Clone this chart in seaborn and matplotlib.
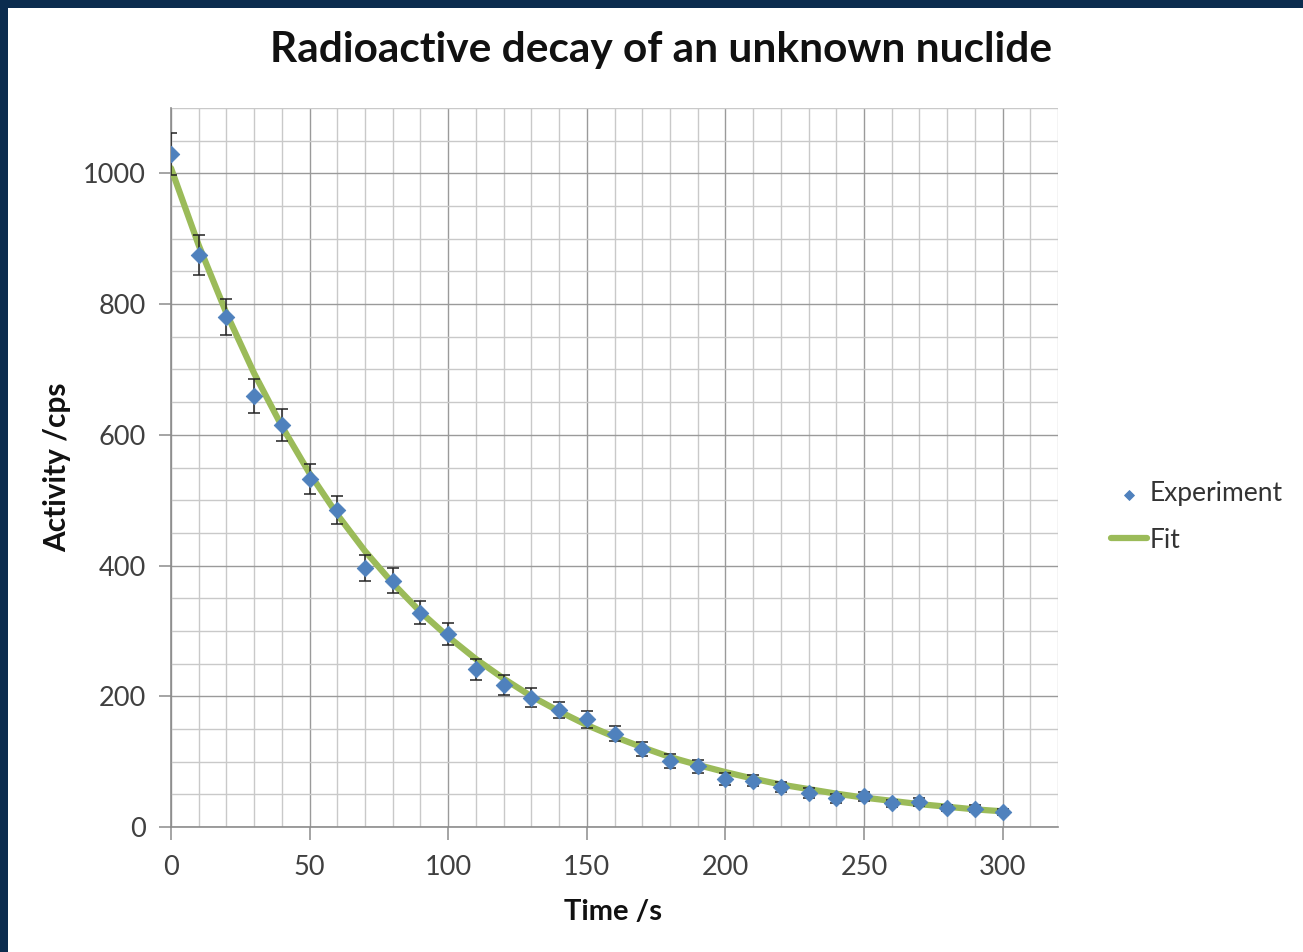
import numpy as np
import pandas as pd
import matplotlib.pyplot as plt
import seaborn as sns
from matplotlib.patches import Rectangle
from matplotlib.ticker import MultipleLocator

# Dane pomiarowe
time_s = [0, 10, 20, 30, 40, 50, 60, 70, 80, 90, 100, 110, 120, 130, 140, 150,
          160, 170, 180, 190, 200, 210, 220, 230, 240, 250, 260, 270, 280, 290, 300]
activity = [1030, 875, 780, 660, 615, 533, 485, 396, 377, 328, 295, 241, 217, 198, 179, 165,
            143, 119, 101, 93, 73, 71, 61, 52, 44, 47, 36, 38, 29, 28, 23]
activity_err = [32, 30, 28, 26, 25, 23, 22, 20, 19, 18, 17, 16, 15, 14, 13, 13,
                12, 11, 10, 10, 9, 8, 8, 7, 7, 7, 6, 6, 5, 5, 5]
# Krzywa dopasowania
fit_values = [1008, 890, 786, 694, 613, 541, 478, 422, 373, 329, 291, 257, 227, 200, 177, 156,
              138, 122, 107, 95, 84, 74, 65, 58, 51, 45, 40, 35, 31, 27, 24]

df = pd.DataFrame({'Time': time_s, 'Activity': activity, 'Err': activity_err, 'Fit': fit_values})

sns.set_style("white")
plt.rcParams['font.family'] = ['Lato', 'DejaVu Sans']

fig = plt.figure(figsize=(13.03, 9.52), dpi=100)
fig.patch.set_facecolor('#0b2c4e')
fig.add_artist(Rectangle((8 / 1303, 0), 1, 1 - 8 / 952, transform=fig.transFigure,
                         facecolor='white', edgecolor='none', zorder=0))

ax = fig.add_axes([171 / 1303, 1 - 827 / 952, (1058 - 171) / 1303, (827 - 108) / 952])
ax.set_facecolor('white')

sns.lineplot(data=df, x='Time', y='Fit', ax=ax, color='#9bbb59', linewidth=4.5,
             label='Fit', zorder=3)
ax.errorbar(df['Time'], df['Activity'], yerr=df['Err'], fmt='none', ecolor='#222222',
            elinewidth=1.1, capsize=4, capthick=1.1, zorder=4)
sns.scatterplot(data=df, x='Time', y='Activity', ax=ax, marker='D', s=70, color='#4f81bd',
                edgecolor='#4f81bd', label='Experiment', zorder=5)

ax.set_xlim(0, 320)
ax.set_ylim(0, 1100)
ax.xaxis.set_major_locator(MultipleLocator(50))
ax.xaxis.set_minor_locator(MultipleLocator(10))
ax.yaxis.set_major_locator(MultipleLocator(200))
ax.yaxis.set_minor_locator(MultipleLocator(50))
ax.grid(which='major', color='#9a9a9a', linewidth=1.0)
ax.grid(which='minor', color='#c9c9c9', linewidth=1.0)
ax.set_axisbelow(True)

for side in ['top', 'right']:
    ax.spines[side].set_visible(False)
for side in ['left', 'bottom']:
    ax.spines[side].set_color('#8c8c8c')
    ax.spines[side].set_linewidth(1.2)

ax.tick_params(which='major', direction='out', length=9, width=1.1, color='#8c8c8c',
               labelsize=19.5, labelcolor='#404040', pad=9)
ax.tick_params(axis='x', pad=11)
ax.tick_params(which='minor', length=0)
ax.tick_params(axis='x', labelbottom=True, bottom=True)
ax.tick_params(axis='y', left=True)

ax.set_xlabel('')
ax.set_ylabel('')
fig.text(613 / 1303, 1 - 912 / 952, 'Time /s', ha='center', va='center',
         fontsize=21, fontweight='bold', color='#111111')
fig.text(57 / 1303, 1 - 467 / 952, 'Activity /cps', ha='center', va='center',
         rotation=90, fontsize=21.5, fontweight='bold', color='#111111')
fig.text(661 / 1303, 1 - 50 / 952, 'Radioactive decay of an unknown nuclide',
         ha='center', va='center', fontsize=30.5, fontweight='bold', color='#111111')

handles, labels = ax.get_legend_handles_labels()
order = [labels.index('Experiment'), labels.index('Fit')]
leg = ax.legend([handles[i] for i in order], [labels[i] for i in order],
                loc='center left', bbox_to_anchor=(1093 / 1303, 1 - 517 / 952),
                bbox_transform=fig.transFigure, frameon=False, fontsize=19,
                handlelength=1.35, handletextpad=0.1, labelspacing=0.8,
                markerscale=0.6, labelcolor='#333333', borderpad=0.2)

fig.savefig('out.png', dpi=100, facecolor=fig.get_facecolor())
